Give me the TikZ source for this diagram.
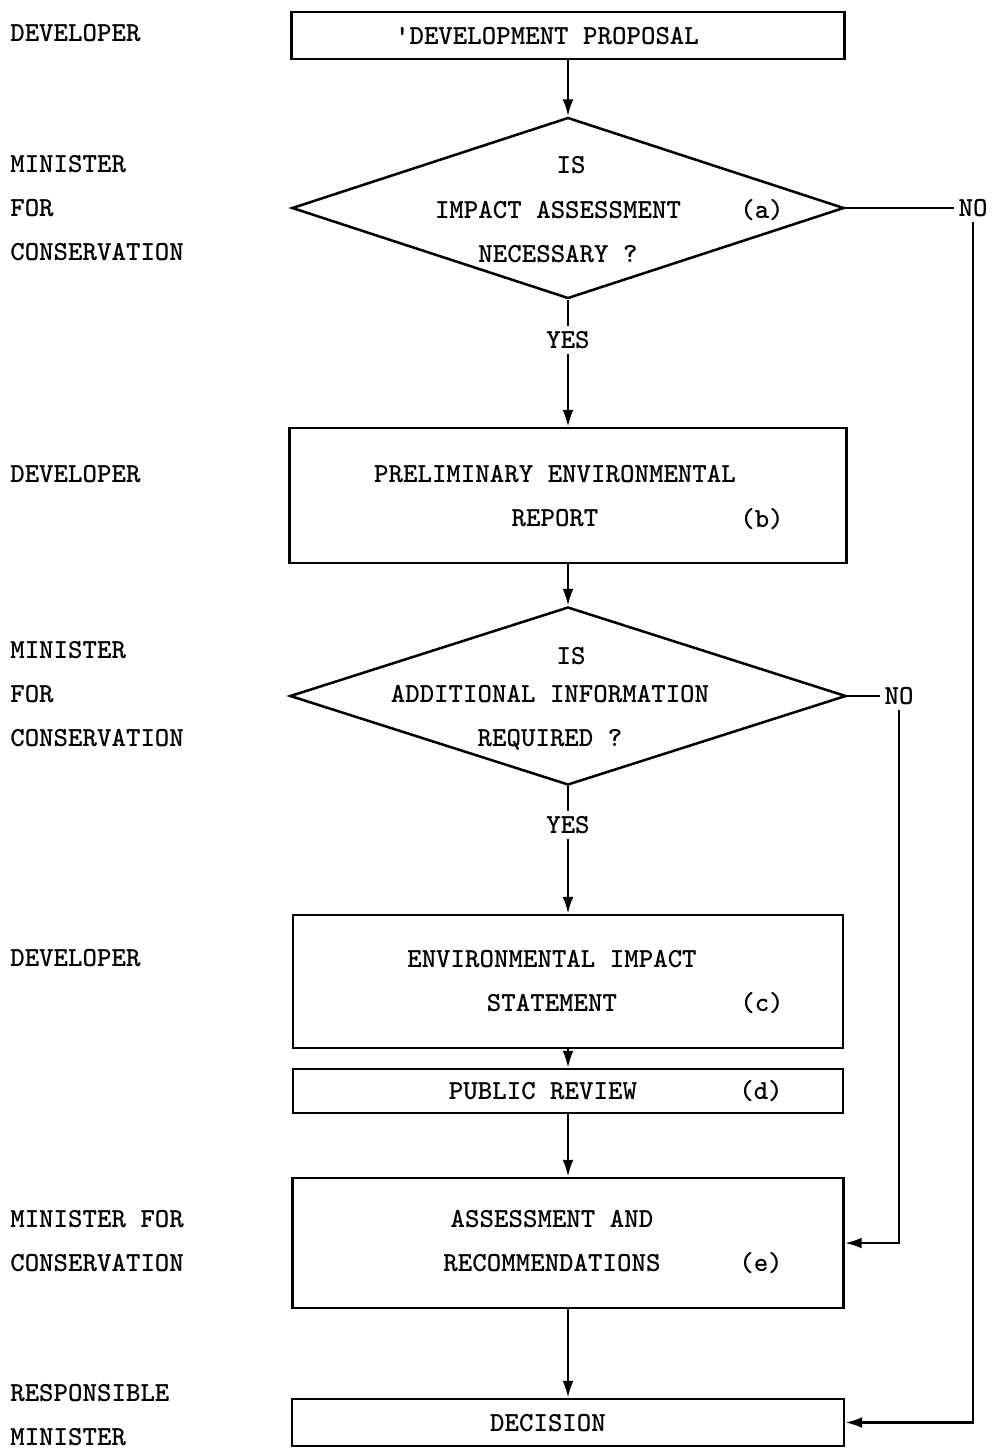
\documentclass[tikz,border=0pt]{standalone}
\usepackage{fontspec}
\usetikzlibrary{arrows.meta,positioning,shapes.geometric}
\tikzset{
  procbox/.style={draw,line width=1.8pt,inner sep=0pt},
  decdia/.style={diamond,draw,line width=1.8pt,inner sep=0pt},
  boxText/.style={align=center,inner sep=1pt},
  tagText/.style={inner sep=1pt},
  roleText/.style={anchor=west,align=left,inner sep=0pt},
  flowArrow/.style={-{Latex[length=4.2mm,width=2.7mm]},line width=1.7pt},
  flowLine/.style={line width=1.7pt}
}

\begin{document}
\begin{tikzpicture}[x=0.025cm,y=-0.025cm,font=\ttfamily\bfseries\fontsize{19.6}{31.3}\selectfont]
  \useasboundingbox (0,0) rectangle (992,1449);

  % who does what
  \node[roleText] (devA) at (10,33) {DEVELOPER};
  \node[roleText] (minA) at (10,208) {MINISTER\\FOR\\CONSERVATION};
  \node[roleText] (devB) at (10,474) {DEVELOPER};
  \node[roleText] (minB) at (10,694) {MINISTER\\FOR\\CONSERVATION};
  \node[roleText] (devC) at (10,958) {DEVELOPER};
  \node[roleText] (minC) at (10,1241) {MINISTER FOR\\CONSERVATION};
  \node[roleText] (resp) at (10,1415) {RESPONSIBLE\\MINISTER};

  % steps
  \node[procbox,minimum width=13.825cm,minimum height=1.175cm] (prop) at (568,35.5) {};
  \node[decdia,minimum width=13.8cm,minimum height=4.525cm] (diaA) at (568,208) {};
  \node[procbox,minimum width=13.925cm,minimum height=3.375cm] (prelim) at (568,495.5) {};
  \node[decdia,minimum width=13.9cm,minimum height=4.45cm] (diaB) at (568,696) {};
  \node[procbox,minimum width=13.75cm,minimum height=3.325cm] (eis) at (568,981.5) {};
  \node[procbox,minimum width=13.75cm,minimum height=1.1cm] (rev) at (568,1091) {};
  \node[procbox,minimum width=13.775cm,minimum height=3.25cm] (ass) at (568,1243) {};
  \node[procbox,minimum width=13.8cm,minimum height=1.175cm] (dec) at (568,1422.5) {};

  % texts in the steps
  \node[boxText] (propT) at (547,36) {'DEVELOPMENT PROPOSAL};
  \node[boxText] (diaAq) at (571,165) {IS};
  \node[boxText] (diaAT) at (558,232) {IMPACT ASSESSMENT\\NECESSARY ?};
  \node[tagText] (tagA) at (762,210) {(a)};
  \node[boxText] (prelT) at (555,496.5) {PRELIMINARY ENVIRONMENTAL\\REPORT};
  \node[tagText] (tagB) at (762,519) {(b)};
  \node[boxText] (diaBq) at (571,656) {IS};
  \node[boxText] (diaBT) at (550,718) {ADDITIONAL INFORMATION\\REQUIRED ?};
  \node[boxText] (eisT) at (552,981) {ENVIRONMENTAL IMPACT\\STATEMENT};
  \node[tagText] (tagC) at (762,1003) {(c)};
  \node[boxText] (revT) at (543,1091) {PUBLIC REVIEW};
  \node[tagText] (tagD) at (761,1091) {(d)};
  \node[boxText] (assT) at (552,1241.5) {ASSESSMENT AND\\RECOMMENDATIONS};
  \node[tagText] (tagE) at (761,1263) {(e)};
  \node[boxText] (decT) at (548,1423) {DECISION};

  % answers
  \node (yesA) at (568,340) {YES};
  \node (yesB) at (568,825) {YES};
  \node (noA) at (973,208) {NO};
  \node (noB) at (899,696) {NO};

  % main flow
  \draw[flowArrow] (prop) -- (diaA);
  \draw[flowLine] (diaA) -- (yesA);
  \draw[flowArrow] (yesA) -- (prelim);
  \draw[flowArrow] (prelim) -- (diaB);
  \draw[flowLine] (diaB) -- (yesB);
  \draw[flowArrow] (yesB) -- (eis);
  \draw[flowArrow] (eis) -- (rev);
  \draw[flowArrow] (rev) -- (ass);
  \draw[flowArrow] (ass) -- (dec);

  % the NO branches
  \draw[flowLine] (diaA.east) -- (noA.west);
  \draw[flowArrow] (noA.south) |- (dec.east);
  \draw[flowLine] (diaB.east) -- (noB.west);
  \draw[flowArrow] (noB.south) |- (ass.east);
\end{tikzpicture}
\end{document}
